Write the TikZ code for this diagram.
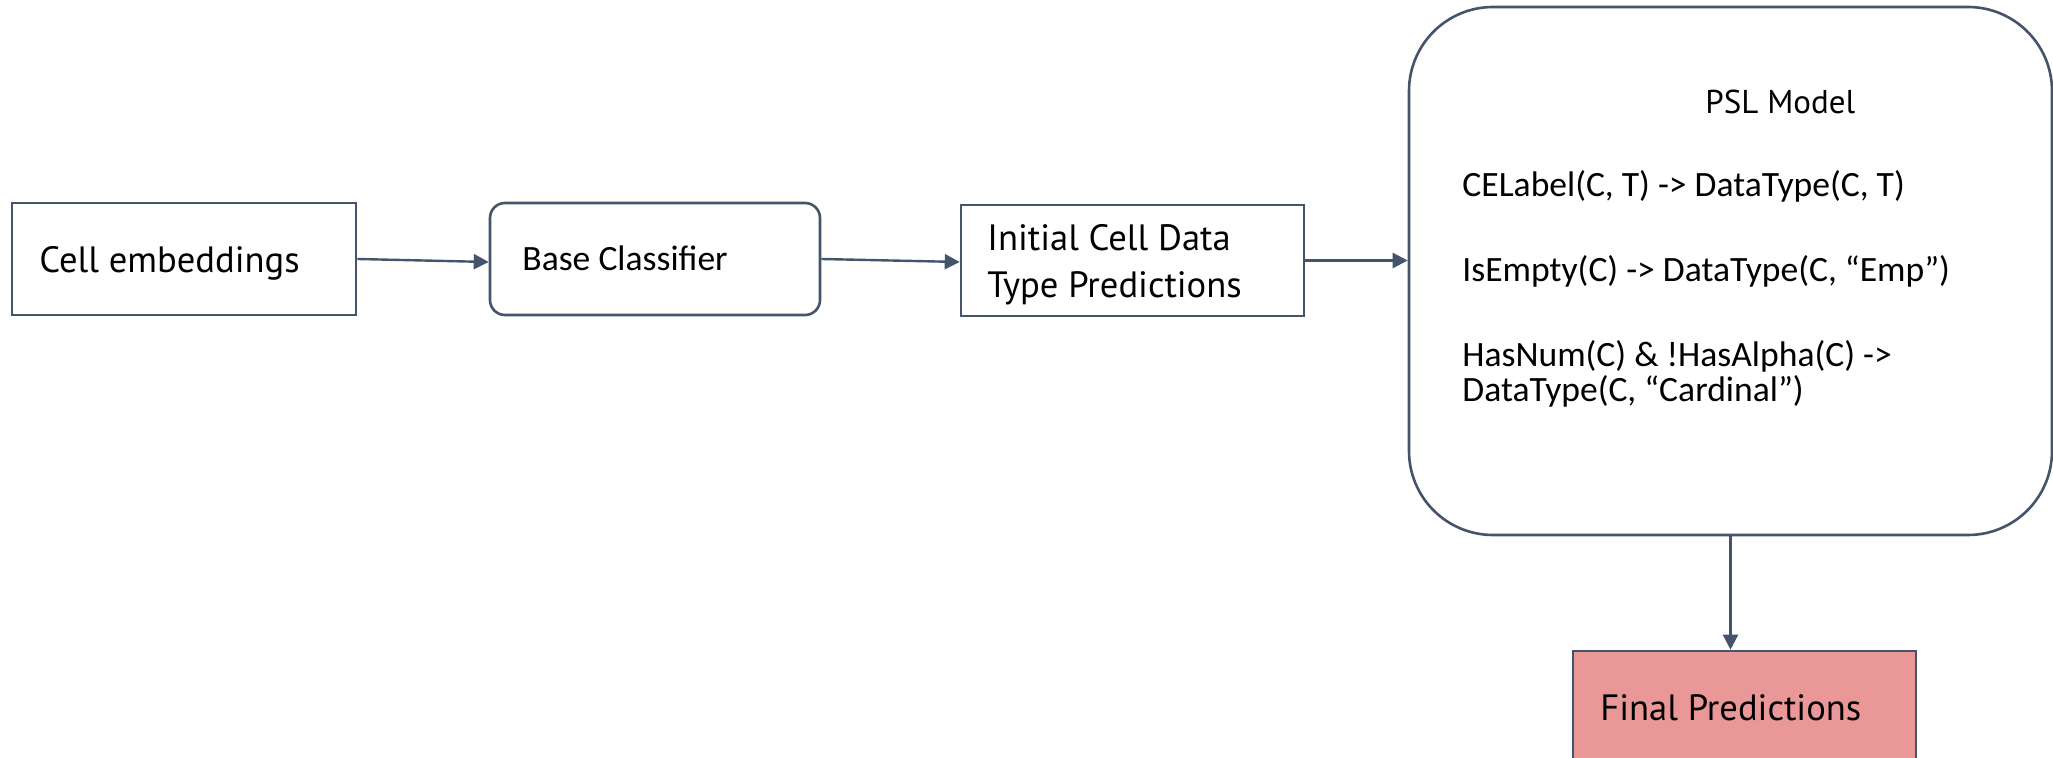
\documentclass[tikz,border=0pt]{standalone}
\usepackage{fontspec}
\setmainfont{PT Sans}
\newfontfamily\calib{Carlito}
\usetikzlibrary{arrows.meta,calc}
\definecolor{edge}{HTML}{44546A}
\definecolor{finalfill}{HTML}{E99797}
\begin{document}
\begin{tikzpicture}[x=0.5pt,y=-0.5pt,
  box/.style={draw=edge,line width=1.3pt,fill=white,inner sep=0pt},
  rbox/.style={box,rounded corners=7.5pt},
  bigtxt/.style={inner sep=0pt,font=\fontsize{18.3}{23.5}\selectfont,align=left},
  smalltxt/.style={inner sep=0pt,font=\calib\fontsize{17.8}{21}\selectfont,align=left},
  psltxt/.style={inner sep=0pt,font=\fontsize{16.5}{20}\selectfont},
  conn/.style={draw=edge,line width=1.2pt,-{Triangle[length=7.5pt,width=7.5pt]}}]
\useasboundingbox (0,0) rectangle (2053,758);

% boxes
\node[box,minimum width=172pt,minimum height=56pt] (cell) at (184,259) {};
\node[rbox,minimum width=165pt,minimum height=56pt] (base) at (655,259) {};
\node[box,minimum width=171.5pt,minimum height=55.5pt] (init) at (1132.5,260.5) {};
\node[box,rounded corners=42pt,minimum width=321.5pt,minimum height=264pt] (psl) at (1730.5,271) {};
\node[box,fill=finalfill,minimum width=171.5pt,minimum height=62pt] (final) at (1744.5,713) {};

% texts
\node[bigtxt,anchor=base west] (tcell) at (39,273) {Cell embeddings};
\node[smalltxt,anchor=base west] (tbase) at (522,271) {Base Classifier};
\node[bigtxt,anchor=base west] (tinit1) at (987,251) {Initial Cell Data};
\node[bigtxt,anchor=base west] (tinit2) at (987,298) {Type Predictions};
\node[psltxt,anchor=base west] (tpsl) at (1705,114) {PSL Model};
\node[smalltxt,anchor=base west] (r1) at (1462,197) {CELabel(C, T) -> DataType(C, T)};
\node[smalltxt,anchor=base west] (r2) at (1462,282) {IsEmpty(C) -> DataType(C, “Emp”)};
\node[smalltxt,anchor=base west] (r3a) at (1462,367) {HasNum(C) \& !HasAlpha(C) ->};
\node[smalltxt,anchor=base west] (r3b) at (1462,402) {DataType(C, “Cardinal”)};
\node[bigtxt,anchor=base west] (tfinal) at (1600,721) {Final Predictions};

% connectors
\draw[conn] (cell.east) -- ([yshift=-1.5pt]base.west);
\draw[conn] (base.east) -- ([yshift=-0.75pt]init.west);
\draw[conn] (init.east) -- (init.east -| psl.west);
\draw[conn] (psl.south) -- (psl.south |- final.north);
\end{tikzpicture}
\end{document}
